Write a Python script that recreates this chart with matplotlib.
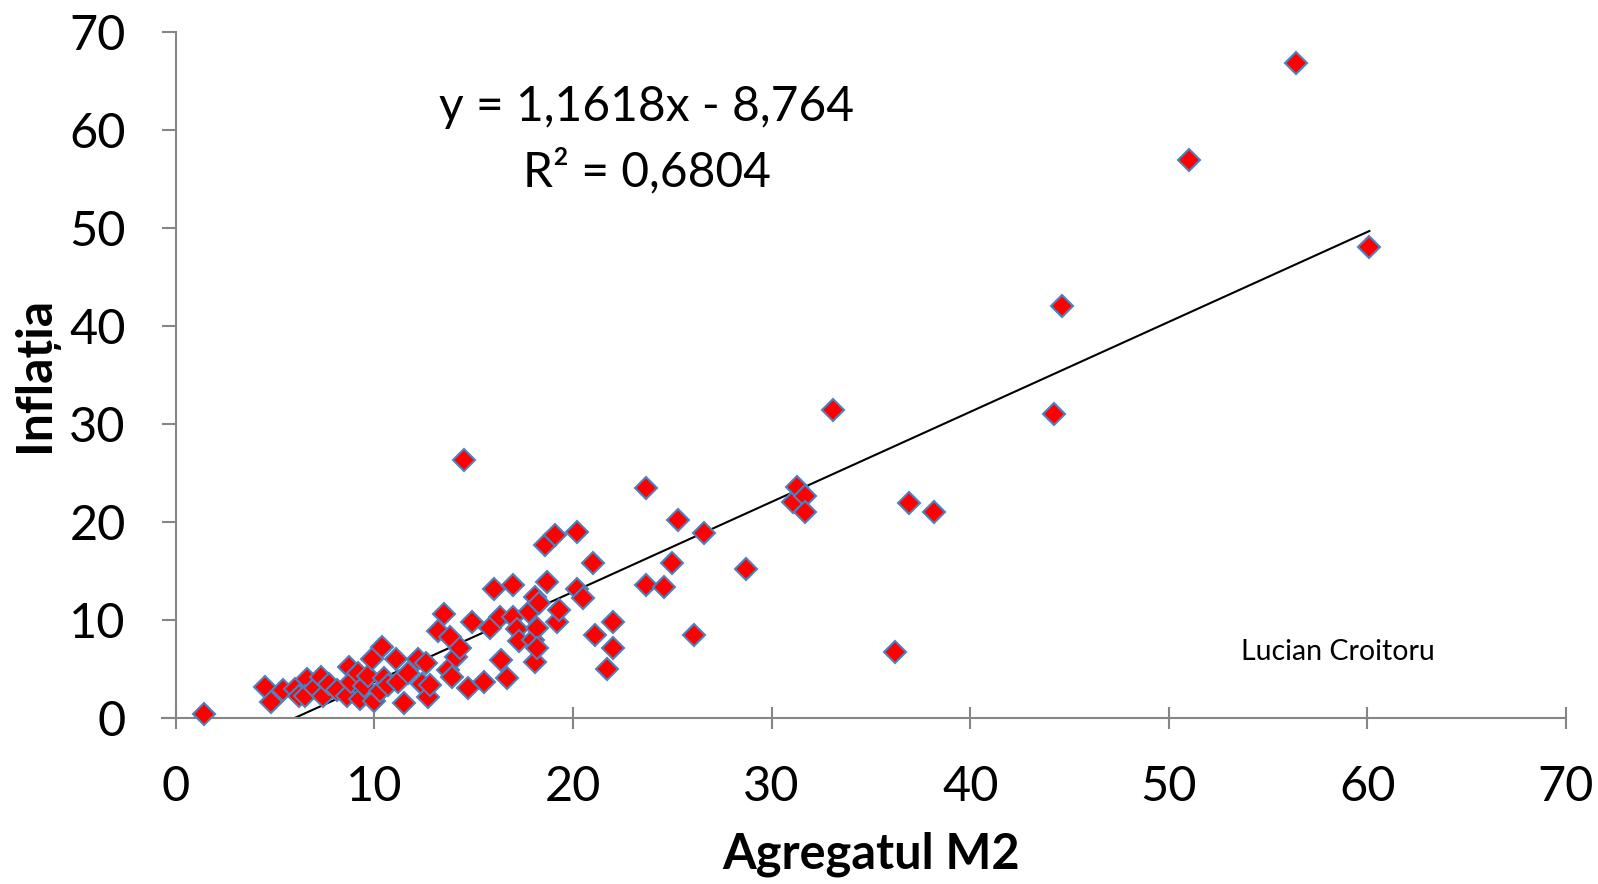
import numpy as np
import matplotlib
matplotlib.use('Agg')
import matplotlib.pyplot as plt

# M2 growth vs inflation
m2 = [1.4, 4.5, 4.8, 5.4, 6.0, 6.2, 6.6, 6.5, 7.0, 7.3, 7.4, 7.7, 8.1, 8.6, 8.7,
      8.8, 9.2, 9.3, 9.5, 9.7, 9.9, 10.0, 10.3, 10.4, 10.5, 10.7, 11.1, 11.2, 11.5,
      11.7, 12.2, 12.4, 12.6, 12.7, 12.8, 13.2, 13.5, 13.7, 13.8, 13.9, 14.1, 14.3,
      14.5, 14.7, 14.9, 15.5, 15.8, 16.0, 16.3, 16.4, 16.7, 17.0, 17.0, 17.2, 17.3,
      17.8, 18.0, 18.1, 18.1, 18.2, 18.2, 18.3, 18.6, 18.7, 19.1, 19.2, 19.3, 20.2,
      20.2, 20.5, 21.0, 21.1, 21.7, 22.0, 22.0, 23.7, 23.7, 24.6, 25.0, 25.3, 26.1,
      26.6, 28.7, 31.1, 31.3, 31.7, 31.7, 33.1, 36.2, 36.9, 38.2, 44.2, 44.6, 51.0,
      56.4, 60.1]
inflatia = [0.4, 3.1, 1.6, 2.8, 2.9, 2.2, 4.0, 2.2, 3.0, 4.2, 2.2, 3.4, 2.8, 2.2, 5.2,
            3.7, 4.6, 1.9, 3.2, 4.3, 6.0, 1.7, 2.7, 7.2, 4.1, 3.3, 6.0, 3.7, 1.5,
            4.6, 6.0, 3.5, 5.6, 2.1, 3.3, 8.9, 10.6, 4.9, 8.2, 4.2, 6.2, 7.1,
            26.3, 3.0, 9.8, 3.7, 9.2, 13.1, 10.3, 5.9, 4.1, 13.6, 10.3, 9.1, 7.8,
            10.8, 7.9, 5.7, 12.3, 9.2, 7.1, 11.7, 17.6, 13.9, 18.7, 9.8, 11.0, 19.0,
            13.1, 12.2, 15.8, 8.5, 5.0, 9.8, 7.1, 23.5, 13.6, 13.3, 15.8, 20.2, 8.4,
            18.9, 15.2, 22.0, 23.6, 22.6, 21.0, 31.4, 6.7, 21.9, 21.0, 31.0, 42.0, 56.9,
            66.8, 48.0]

eq_text = 'y = 1,1618x - 8,764\nR² = 0,6804'
x_ticks = [0, 10, 20, 30, 40, 50, 60, 70]
y_ticks = [0, 10, 20, 30, 40, 50, 60, 70]

plt.rcParams['font.family'] = ['Lato', 'DejaVu Sans']
AXIS_COL = '#868686'

fig = plt.figure(figsize=(15.98, 8.84), dpi=100)
ax = fig.add_axes([0.110, 0.188, 0.870, 0.776])

# trend line (least squares on the plotted points)
slope, intercept = np.polyfit(m2, inflatia, 1)
xl = np.array([min(m2), max(m2)])
ax.plot(xl, slope * xl + intercept, color='black', lw=1.5, zorder=2)

ax.plot(m2, inflatia, linestyle='none', marker='D', markersize=11,
        markerfacecolor='#FF0000', markeredgecolor='#4F81BD', markeredgewidth=1.5,
        zorder=3, clip_on=False)

ax.set_xlim(0, 70)
ax.set_ylim(0, 70)
ax.set_xticks(x_ticks)
ax.set_yticks(y_ticks)
ax.tick_params(axis='both', labelsize=35, colors=AXIS_COL, labelcolor='black',
               length=10, width=1.5)
ax.tick_params(axis='x', direction='inout', length=16, pad=26)
ax.tick_params(axis='y', direction='out', pad=26)
for side in ['top', 'right']:
    ax.spines[side].set_visible(False)
for side in ['left', 'bottom']:
    ax.spines[side].set_color(AXIS_COL)
    ax.spines[side].set_linewidth(1.5)
ax.spines['bottom'].set_bounds(-0.7, 70)
ax.spines['bottom'].set_position(('data', 0))

ax.set_xlabel('Agregatul M2', fontsize=35, fontweight='bold', labelpad=16)
ax.set_ylabel('Inflația', fontsize=36, fontweight='bold', labelpad=8)

ax.text(23.7, 59.0, eq_text, ha='center', va='center', fontsize=34.5,
        linespacing=1.5)
ax.text(58.5, 6.7, 'Lucian Croitoru', ha='center', va='center', fontsize=20.5)

fig.savefig('out.png', dpi=100)
